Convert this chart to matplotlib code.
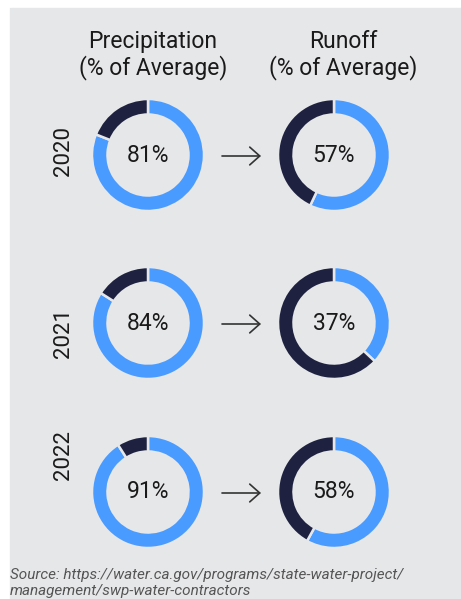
import matplotlib
matplotlib.use("Agg")
import matplotlib.pyplot as plt
from matplotlib.patches import Rectangle

plt.rcParams["font.family"] = ["Roboto", "DejaVu Sans"]

# dati
anni = ["2020", "2021", "2022"]
precipitazioni = [81, 84, 91]
deflusso = [57, 37, 58]
titoli = ["Precipitation\n(% of Average)", "Runoff\n(% of Average)"]
fonte = ["Source: https://water.ca.gov/programs/state-water-project/",
         "management/swp-water-contractors"]

W, H = 461, 599
bg = "#e6e7e9"
blu = "#4a9bff"
navy = "#1e2240"
testo = "#1a1a1a"

fig = plt.figure(figsize=(W / 100, H / 100), dpi=100)
fig.patches.append(Rectangle((10 / W, 0), 1 - 10 / W, 1 - 8 / H,
                             transform=fig.transFigure, color=bg, zorder=-10))
ax = fig.add_axes([0, 0, 1, 1])
ax.set_facecolor("none")

# posizioni in pixel (y dall'alto)
col_x = [148, 334]
riga_y = [155, 323, 492]
anno_y = [151, 333, 455]

def py(y):
    return H - y

for j, t in enumerate(titoli):
    ax.text([153, 343][j], py(55), t, ha="center", va="center", fontsize=16.5,
            color=testo, linespacing=1.1)

for i, anno in enumerate(anni):
    y = riga_y[i]
    for j, v in enumerate([precipitazioni[i], deflusso[i]]):
        ax.pie([v, 100 - v], colors=[blu, navy], startangle=90, counterclock=False,
               radius=56, center=(col_x[j], py(y)),
               wedgeprops=dict(width=15.5, edgecolor=bg, linewidth=1.8))
        ax.text(col_x[j], py(y), f"{v}%", ha="center", va="center",
                fontsize=16.5, color=testo)
    ax.text(63, py(anno_y[i]), anno, rotation=90, ha="center", va="center",
            fontsize=16, color=testo)
    ax.annotate("", xy=(261, py(y + 1)), xytext=(222, py(y + 1)),
                arrowprops=dict(arrowstyle="->,head_length=0.36,head_width=0.32",
                                lw=1.2, color="#333333", mutation_scale=20,
                                shrinkA=0, shrinkB=0))

ax.text(10, py(579), fonte[0], ha="left", va="baseline", fontsize=11,
        style="italic", color="#555555")
ax.text(10, py(595), fonte[1], ha="left", va="baseline", fontsize=11,
        style="italic", color="#555555")

ax.set_xlim(0, W)
ax.set_ylim(0, H)
ax.set_aspect("auto")
ax.axis("off")

fig.savefig("out.png", dpi=100)
